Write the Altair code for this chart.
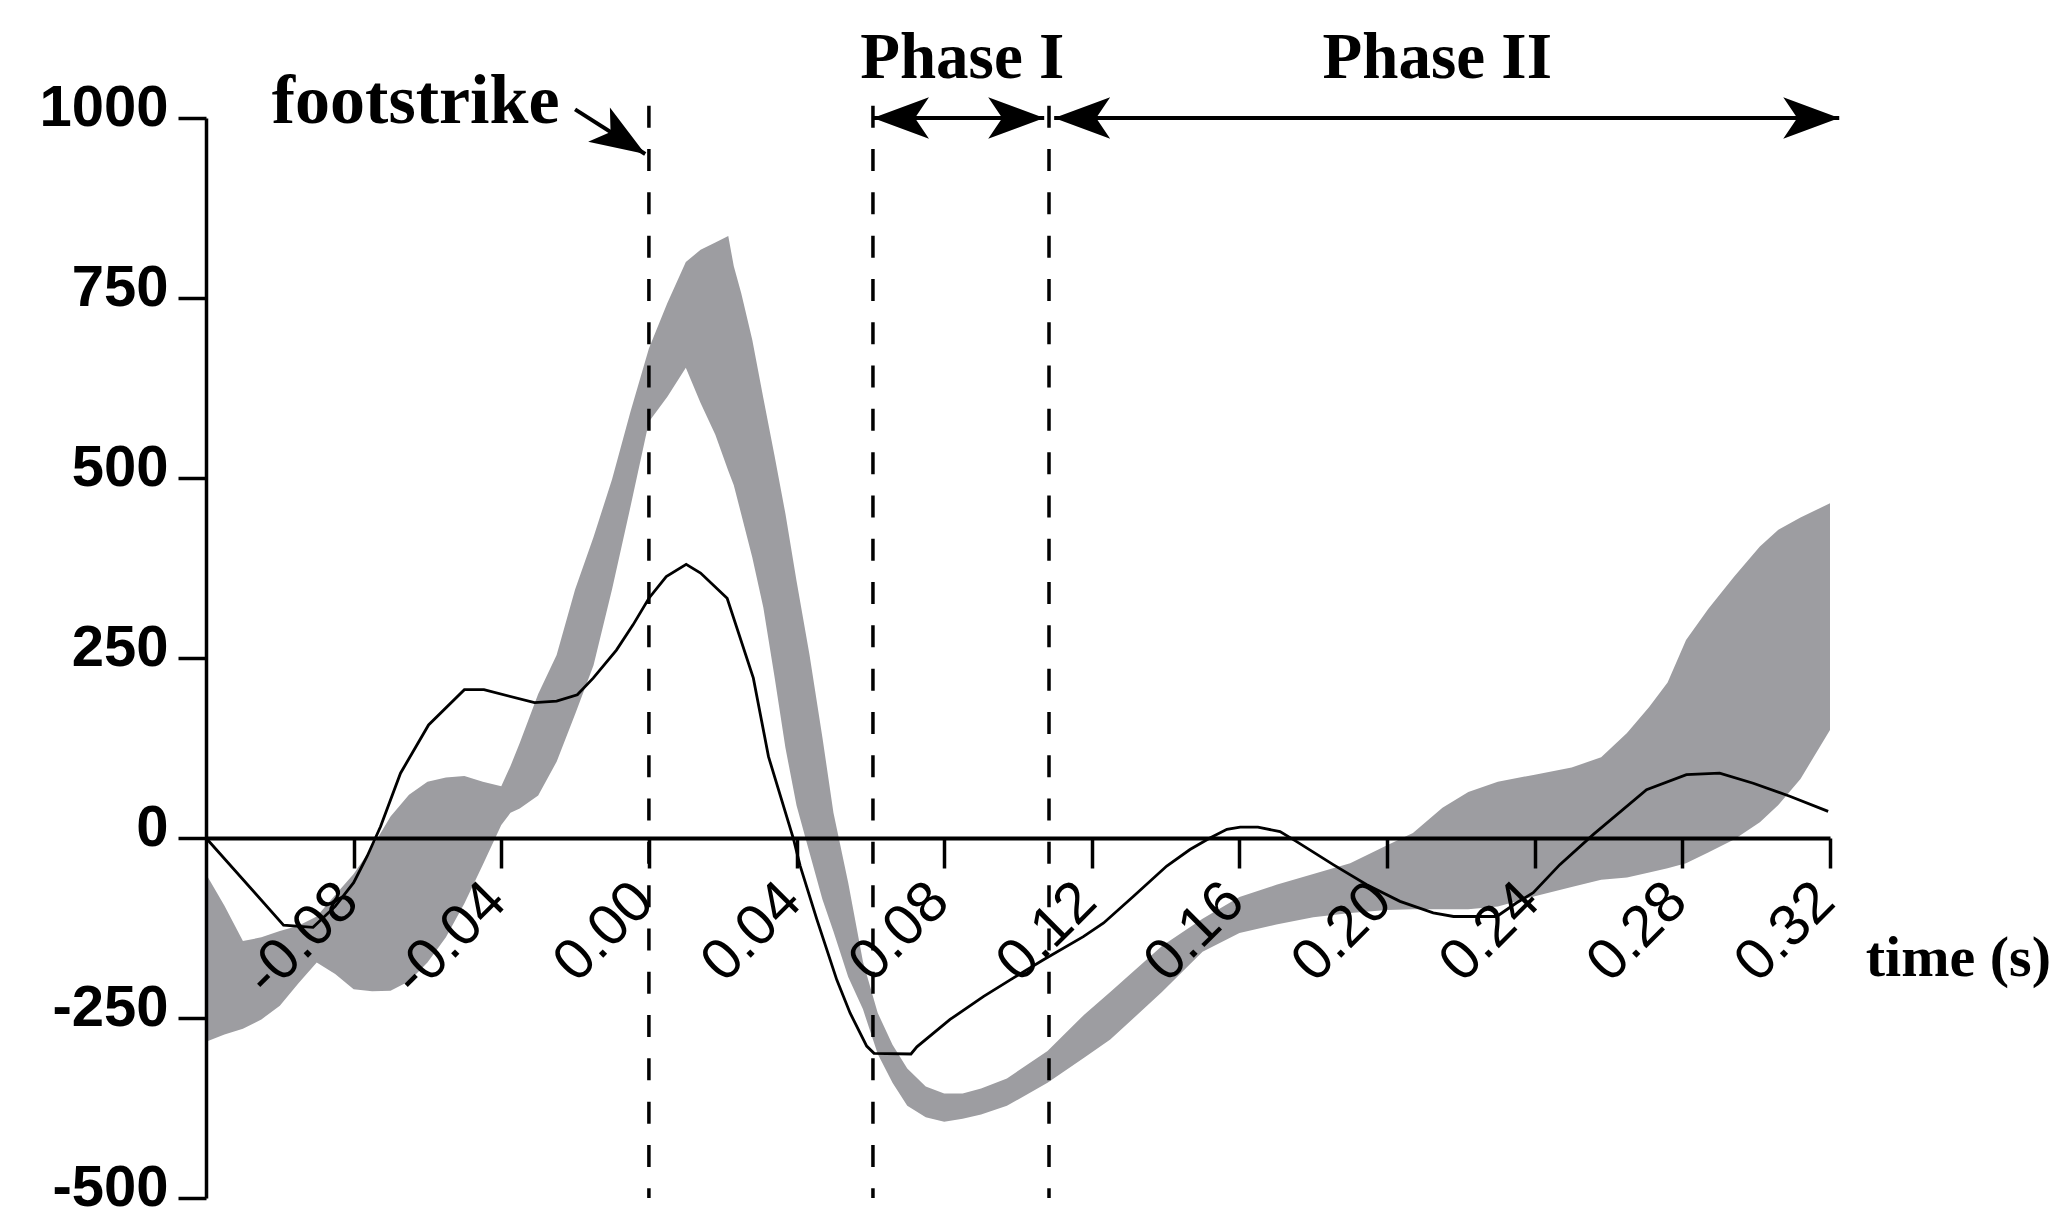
import math
import altair as alt
import pandas as pd

# ---------------- data ----------------
# mean curve (black line): time (s) and value
line_t = [-0.12, -0.099, -0.091, -0.085, -0.080, -0.0763, -0.0727, -0.0673, -0.0597,
          -0.050, -0.0447, -0.031, -0.025, -0.0194, -0.0151, -0.0088, -0.0043, 0.0,
          0.0047, 0.0101, 0.014, 0.0212, 0.0283, 0.0324, 0.0391, 0.041, 0.0455, 0.0509,
          0.0545, 0.059, 0.061, 0.071, 0.0726, 0.0816, 0.0907, 0.0979, 0.1069, 0.1177,
          0.1232, 0.1313, 0.1403, 0.1466, 0.152, 0.1566, 0.1602, 0.165, 0.171, 0.1755,
          0.1854, 0.1945, 0.2035, 0.2125, 0.218, 0.2297, 0.2351, 0.2396, 0.2468, 0.2559,
          0.2703, 0.2811, 0.2901, 0.2992, 0.3091, 0.3195]
line_v = [0, -121, -124, -95, -62, -25, 16, 90, 157,
          206, 206, 188, 190, 199, 222, 261, 296, 333,
          363, 380, 368, 333, 222, 113, 0, -39, -113, -197,
          -243, -289, -299, -300, -290, -252, -220, -197, -169, -137,
          -118, -81, -39, -16, 0, 12, 15, 15, 9, -5,
          -37, -65, -88, -104, -109, -109, -90, -76, -37, 5,
          67, 88, 90, 76, 58, 37]

# reference corridor (grey band): time, lower and upper bound
band_t = [-0.12, -0.115, -0.11, -0.105, -0.10, -0.095, -0.09, -0.085, -0.08, -0.075,
          -0.07, -0.065, -0.06, -0.055, -0.05, -0.045, -0.04, -0.0375, -0.035, -0.03,
          -0.025, -0.02, -0.015, -0.01, -0.005, 0.0, 0.005, 0.01, 0.014, 0.018,
          0.0215, 0.023, 0.025, 0.028, 0.031, 0.034, 0.037, 0.04, 0.0435, 0.047,
          0.05, 0.054, 0.058, 0.062, 0.066, 0.07, 0.075, 0.08, 0.085, 0.09,
          0.097, 0.108, 0.118, 0.125, 0.139, 0.15, 0.16, 0.17, 0.18, 0.19,
          0.20, 0.207, 0.215, 0.222, 0.23, 0.24, 0.25, 0.258, 0.265, 0.271,
          0.276, 0.281, 0.287, 0.294, 0.301, 0.306, 0.312, 0.32]
band_lo = [-283, -273, -265, -252, -233, -202, -173, -189, -210, -213,
           -212, -199, -173, -138, -91, -37, 18, 35, 41, 59,
           106, 172, 240, 345, 460, 578, 613, 653, 604, 560,
           510, 490, 450, 390, 320, 225, 125, 45, -20, -85,
           -130, -193, -238, -300, -340, -372, -388, -394, -390, -384,
           -372, -340, -305, -280, -214, -158, -132, -120, -110, -104,
           -100, -99, -99, -99, -95, -81, -68, -58, -55, -48,
           -42, -35, -20, -2, 22, 46, 82, 150]
band_hi = [-50, -94, -143, -138, -129, -122, -109, -79, -50, -13,
           30, 60, 78, 84, 86, 78, 72, 100, 132, 200,
           254, 345, 418, 498, 592, 680, 743, 800, 817, 827,
           836, 794, 757, 692, 611, 532, 450, 357, 255, 140,
           35, -62, -172, -243, -287, -320, -345, -355, -355, -348,
           -334, -296, -245, -214, -150, -112, -82, -65, -50, -35,
           -10, 7, 42, 64, 78, 88, 98, 112, 146, 182,
           216, 275, 318, 363, 405, 428, 445, 465]

x_tick_values = [-0.08, -0.04, 0.00, 0.04, 0.08, 0.12, 0.16, 0.20, 0.24, 0.28, 0.32]
y_tick_values = [-500, -250, 0, 250, 500, 750, 1000]

# vertical event markers (footstrike, start / end of phase I)
event_t = [0.0, 0.0607, 0.1084]
event_top = 1017

# annotation texts
text_labels = ["Phase I", "Phase II"]
text_t = [0.0849, 0.2136]
text_v = [1055, 1055]
foot_label = "footstrike"
foot_t, foot_v = -0.0632, 993
axis_title = "time (s)"
axis_title_t, axis_title_v = 0.3297, -192

# arrows: tip and the opposite end (which gives the direction)
arrow_tip_t = [0.0607, 0.1071, 0.1098, 0.3225, -0.0010]
arrow_tip_v = [1000, 1000, 1000, 1000, 950]
arrow_tail_t = [0.1071, 0.0607, 0.3225, 0.1098, -0.0200]
arrow_tail_v = [1000, 1000, 1000, 1000, 1012]

# ---------------- layout ----------------
W, H = 1624, 1080
X_DOM = [-0.12, 0.32]
Y_DOM = [-500, 1000]
PX_X = W / (X_DOM[1] - X_DOM[0])
PX_Y = H / (Y_DOM[1] - Y_DOM[0])

xs = alt.Scale(domain=X_DOM, nice=False, zero=False)
ys = alt.Scale(domain=Y_DOM, nice=False, zero=False)

band_df = pd.DataFrame({"t": band_t, "v": band_lo, "v2": band_hi})
line_df = pd.DataFrame({"t": line_t, "v": line_v})
event_df = pd.DataFrame({"t": event_t, "v": [event_top] * len(event_t),
                         "v2": [Y_DOM[0]] * len(event_t)})
text_df = pd.DataFrame({"t": text_t, "v": text_v, "label": text_labels})
foot_df = pd.DataFrame({"t": [foot_t], "v": [foot_v], "label": [foot_label]})
title_df = pd.DataFrame({"t": [axis_title_t], "v": [axis_title_v], "label": [axis_title]})

# shafts: Phase I (0-1), Phase II (2-3), footstrike (4)
shaft_df = pd.DataFrame({
    "t": [arrow_tip_t[0], arrow_tip_t[2], arrow_tail_t[4]],
    "v": [arrow_tip_v[0], arrow_tip_v[2], arrow_tail_v[4]],
    "t2": [arrow_tip_t[1], arrow_tip_t[3], arrow_tip_t[4]],
    "v2": [arrow_tip_v[1], arrow_tip_v[3], arrow_tip_v[4]],
})

head_ang = []
for i in range(len(arrow_tip_t)):
    dx = (arrow_tip_t[i] - arrow_tail_t[i]) * PX_X
    dy = -(arrow_tip_v[i] - arrow_tail_v[i]) * PX_Y
    head_ang.append((math.degrees(math.atan2(dy, dx)) + 360) % 360)
head_df = pd.DataFrame({"t": arrow_tip_t, "v": arrow_tip_v, "ang": head_ang,
                        "sz": [3136, 3136, 3136, 3136, 3000]})

ARROW = "M0,0L-2,-0.74L-1.5,0L-2,0.74Z"

x_axis = alt.Axis(
    values=x_tick_values,
    labelExpr="(datum.value < 0 ? '-' : '') + format(abs(datum.value), '.2f')",
    labelAngle=315, labelAlign="right", labelBaseline="middle",
    labelPadding=24, labelOffset=-5,
    labelFont="Liberation Sans", labelFontSize=58, labelColor="black",
    labelFlush=False, labelOverlap=False,
    tickSize=30, tickWidth=3.5, tickColor="black",
    domainColor="black", domainWidth=4,
    grid=False, title=None, offset=-H / 3, zindex=1,
)
y_axis = alt.Axis(
    values=y_tick_values,
    labelExpr="(datum.value < 0 ? '-' : '') + format(abs(datum.value), 'd')",
    labelFont="Liberation Sans", labelFontSize=58, labelFontWeight="bold",
    labelColor="black", labelPadding=10, labelOffset=-10,
    labelFlush=False, labelOverlap=False,
    tickSize=28, tickWidth=3.5, tickColor="black",
    domainColor="black", domainWidth=3.5,
    grid=False, title=None, zindex=1,
)

band = alt.Chart(band_df).mark_area(color="#9d9da1", opacity=1).encode(
    x=alt.X("t:Q", scale=xs, axis=x_axis),
    y=alt.Y("v:Q", scale=ys, axis=y_axis),
    y2="v2:Q",
)

line = alt.Chart(line_df).mark_line(color="black", strokeWidth=2.8).encode(
    x=alt.X("t:Q", scale=xs, title=None),
    y=alt.Y("v:Q", scale=ys, title=None),
)

events = alt.Chart(event_df).mark_rule(
    color="black", strokeWidth=3.5, strokeDash=[22, 21.3]
).encode(
    x=alt.X("t:Q", scale=xs, title=None),
    y=alt.Y("v:Q", scale=ys, title=None),
    y2="v2:Q",
)

shafts = alt.Chart(shaft_df).mark_rule(color="black", strokeWidth=4).encode(
    x=alt.X("t:Q", scale=xs, title=None),
    y=alt.Y("v:Q", scale=ys, title=None),
    x2="t2:Q",
    y2="v2:Q",
)

heads = alt.Chart(head_df).mark_point(
    shape=ARROW, filled=True, color="black", opacity=1, strokeWidth=0
).encode(
    x=alt.X("t:Q", scale=xs, title=None),
    y=alt.Y("v:Q", scale=ys, title=None),
    angle=alt.Angle("ang:Q", scale=None),
    size=alt.Size("sz:Q", scale=None),
)

texts = alt.Chart(text_df).mark_text(
    font="Liberation Serif", fontWeight="bold", fontSize=65,
    align="center", baseline="alphabetic", color="black",
).encode(
    x=alt.X("t:Q", scale=xs, title=None),
    y=alt.Y("v:Q", scale=ys, title=None),
    text="label:N",
)

foot = alt.Chart(foot_df).mark_text(
    font="Liberation Serif", fontWeight="bold", fontSize=70,
    align="center", baseline="alphabetic", color="black",
).encode(
    x=alt.X("t:Q", scale=xs, title=None),
    y=alt.Y("v:Q", scale=ys, title=None),
    text="label:N",
)

xtitle = alt.Chart(title_df).mark_text(
    font="Liberation Serif", fontWeight="bold", fontSize=58,
    align="left", baseline="alphabetic", color="black",
).encode(
    x=alt.X("t:Q", scale=xs, title=None),
    y=alt.Y("v:Q", scale=ys, title=None),
    text="label:N",
)

chart = alt.layer(band, events, line, shafts, heads, texts, foot, xtitle).properties(
    width=W, height=H,
    autosize=alt.AutoSizeParams(type="none"),
    padding={"left": 198, "top": 110, "right": 222, "bottom": 16},
    background="white",
).configure_view(stroke=None)

chart.save("out.html", embed_options={"renderer": "svg", "actions": False})
